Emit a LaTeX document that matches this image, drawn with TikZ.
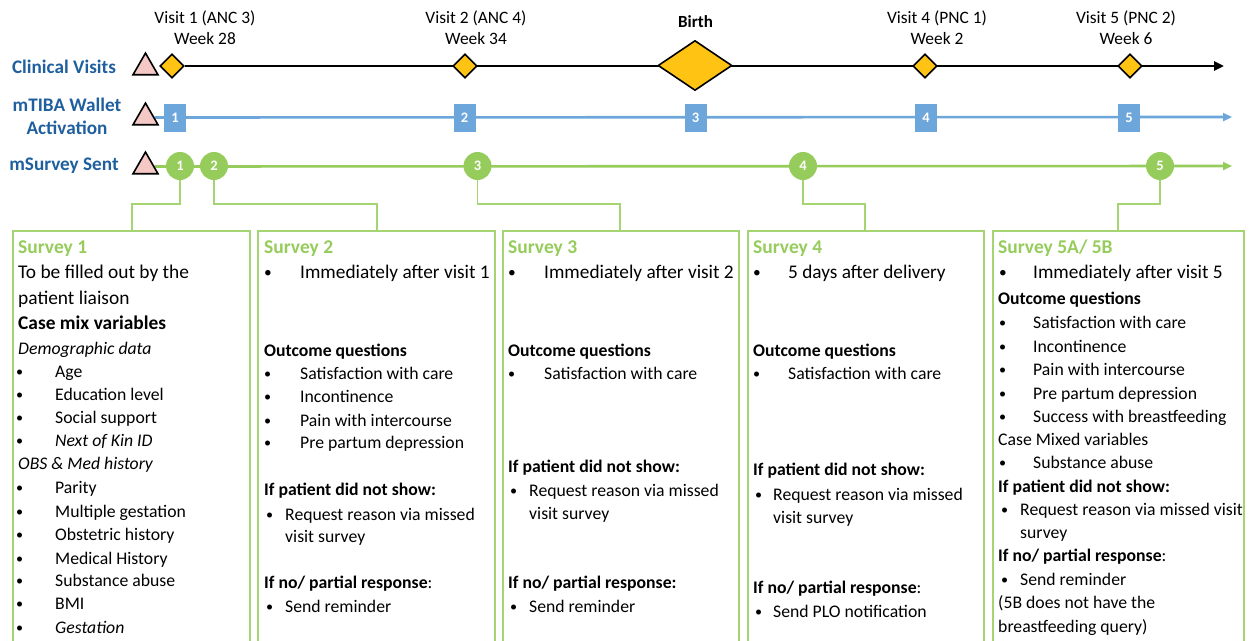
\documentclass[tikz,border=0pt]{standalone}
\usepackage{fontspec}
\setmainfont{Carlito}
\usetikzlibrary{shapes.geometric,arrows.meta,backgrounds}
\definecolor{lblue}{RGB}{31,95,158}
\definecolor{gold}{RGB}{255,195,20}
\definecolor{pinkf}{RGB}{244,200,196}
\definecolor{wblue}{RGB}{108,166,218}
\definecolor{sgreen}{RGB}{150,204,92}
\definecolor{bgreen}{RGB}{165,212,115}
\newcommand\mytx[4][]{\node[txt,#1] (#2) at #3 {#4};}
\newcommand\mybul[2]{\makebox[#1pt][l]{\raisebox{0.6pt}{\scalebox{0.8}{\textbullet}}}#2}
\begin{document}
\begin{tikzpicture}[x=1pt,y=-1pt,
  txt/.style={anchor=west, inner sep=0, font=\fontsize{17.7}{21}\selectfont, text height=14pt, text depth=2pt},
  big/.style={font=\fontsize{19.4}{22}\selectfont},
  imm/.style={font=\fontsize{19.3}{22}\selectfont},
  stitle/.style={text=sgreen, font=\fontsize{19.5}{22}\selectfont\bfseries},
  toplab/.style={align=center, inner sep=0, font=\fontsize{17.4}{21}\selectfont},
  sidelab/.style={align=center, inner sep=0, text=lblue, font=\fontsize{19.2}{23}\selectfont\bfseries},
  tri/.style={regular polygon, regular polygon sides=3, minimum size=28.8pt, inner sep=0, draw=black, line width=1.6pt, fill=pinkf},
  dia/.style={diamond, draw=black, line width=1.6pt, fill=gold, inner sep=0, minimum width=24pt, minimum height=24pt},
  bigdia/.style={dia, minimum width=74pt, minimum height=50pt},
  sq/.style={rectangle, fill=wblue, minimum width=22pt, minimum height=28pt, inner sep=0, text=white, font=\fontsize{14.5}{14}\selectfont\bfseries},
  circ/.style={circle, fill=sgreen, minimum size=28pt, inner sep=0, text=white, font=\fontsize{14.5}{14}\selectfont\bfseries},
  box/.style={draw=bgreen, line width=1.6pt, anchor=north west, inner sep=0},
  conn/.style={draw=bgreen, line width=1.6pt}
]
\useasboundingbox (0,0) rectangle (1253,640);

% side labels
\node[sidelab] (labcv) at (64,67) {Clinical Visits};
\node[sidelab] (labmt) at (67,116.5) {mTIBA Wallet\\Activation};
\node[sidelab] (labms) at (64,166) {mSurvey Sent};

% top labels
\node[toplab] (top1) at (205,27.5) {Visit 1 (ANC 3)\\Week 28};
\node[toplab] (top2) at (476,27.5) {Visit 2 (ANC 4)\\Week 34};
\node[toplab, font=\fontsize{17}{21}\selectfont\bfseries] (topb) at (695.5,22) {Birth};
\node[toplab] (top4) at (937,27.5) {Visit 4 (PNC 1)\\Week 2};
\node[toplab] (top5) at (1126,27.5) {Visit 5 (PNC 2)\\Week 6};

% triangles
\node[tri] (tri1) at (145.5,67.5) {};
\node[tri] (tri2) at (145.5,117.5) {};
\node[tri] (tri3) at (145.5,166.5) {};

% clinical visits
\node[dia] (v1) at (172,66) {};
\node[dia] (v2) at (465,66) {};
\node[bigdia] (vb) at (695,65.5) {};
\node[dia] (v4) at (925,66) {};
\node[dia] (v5) at (1130,66) {};
\coordinate (cvend) at (1224,66);

% wallet
\node[sq] (w1) at (175,117.5) {1};
\node[sq] (w2) at (464.5,117.5) {2};
\node[sq] (w3) at (695.5,117.5) {3};
\node[sq] (w4) at (926,117.5) {4};
\node[sq] (w5) at (1129,117.5) {5};
\coordinate (wend) at (1232,117);

% surveys
\node[circ] (s1) at (180,166) {1};
\node[circ] (s2) at (214,166) {2};
\node[circ] (s3) at (477.5,166) {3};
\node[circ] (s4) at (803,166) {4};
\node[circ] (s5) at (1160,166) {5};
\coordinate (send) at (1232,166);

% boxes
\node[box, minimum width=237pt, minimum height=430pt] (box1) at (12,230) {};
\node[box, minimum width=237pt, minimum height=430pt] (box2) at (257,230) {};
\node[box, minimum width=236pt, minimum height=430pt] (box3) at (502,230) {};
\node[box, minimum width=236pt, minimum height=430pt] (box4) at (747,230) {};
\node[box, minimum width=251pt, minimum height=430pt] (box5) at (992,230) {};
\coordinate (k1) at (132,230);
\coordinate (k2) at (377,230);
\coordinate (k3) at (620,230);
\coordinate (k4) at (865,230);
\coordinate (k5) at (1118,230);

\begin{pgfonlayer}{background}
\draw[line width=2.8pt, black, -{Triangle[length=10pt,width=9pt]}] (v1) -- (cvend);
\draw[line width=2.6pt, wblue, -{Triangle[length=9pt,width=8pt]}] (tri2) -- (wend);
\draw[line width=2.6pt, sgreen, -{Triangle[length=9pt,width=8pt]}] (tri3) -- (send);
\draw[conn] (s1.center) -- ++(0,38) -| (k1);
\draw[conn] (s2.center) -- ++(0,38) -| (k2);
\draw[conn] (s3.center) -- ++(0,38) -| (k3);
\draw[conn] (s4.center) -- ++(0,38) -| (k4);
\draw[conn] (s5.center) -- ++(0,38) -| (k5);
\end{pgfonlayer}

% box 1
\mytx[stitle]{a1}{(18,247)}{Survey 1}
\mytx[big]{a2}{(18,272)}{To be filled out by the}
\mytx[big]{a3}{(18,298)}{patient liaison}
\mytx[big]{a4}{(18,323)}{\textbf{Case mix variables}}
\mytx{a5}{(18,348)}{\textit{Demographic data}}
\mytx{a6}{(16,371)}{\mybul{39}{Age}}
\mytx{a7}{(16,394)}{\mybul{39}{Education level}}
\mytx{a8}{(16,417)}{\mybul{39}{Social support}}
\mytx{a9}{(16,440)}{\mybul{39}{\textit{Next of Kin ID}}}
\mytx{a10}{(18,463)}{\textit{OBS \& Med history}}
\mytx{a11}{(16,487)}{\mybul{39}{Parity}}
\mytx{a12}{(16,511)}{\mybul{39}{Multiple gestation}}
\mytx{a13}{(16,534)}{\mybul{39}{Obstetric history}}
\mytx{a14}{(16,558)}{\mybul{39}{Medical History}}
\mytx{a15}{(16,580)}{\mybul{39}{Substance abuse}}
\mytx{a16}{(16,603)}{\mybul{39}{BMI}}
\mytx{a17}{(16,627)}{\mybul{39}{\textit{Gestation}}}

% box 2
\mytx[stitle]{b1}{(264,247)}{Survey 2}
\mytx[imm]{b2}{(264,272)}{\mybul{36}{Immediately after visit 1}}
\mytx{b3}{(264,350)}{\textbf{Outcome questions}}
\mytx{b4}{(264,373)}{\mybul{36}{Satisfaction with care}}
\mytx{b5}{(264,396)}{\mybul{36}{Incontinence}}
\mytx{b6}{(264,420)}{\mybul{36}{Pain with intercourse}}
\mytx{b7}{(264,442)}{\mybul{36}{Pre partum depression}}
\mytx{b8}{(264,489)}{\textbf{If patient did not show:}}
\mytx{b9}{(266,514)}{\mybul{19}{Request reason via missed}}
\mytx{b10}{(285,536)}{visit survey}
\mytx{b11}{(264,582)}{\textbf{If no/ partial response}:}
\mytx{b12}{(266,606)}{\mybul{19}{Send reminder}}

% box 3
\mytx[stitle]{c1}{(508,247)}{Survey 3}
\mytx[imm]{c2}{(508,272)}{\mybul{36}{Immediately after visit 2}}
\mytx{c3}{(508,350)}{\textbf{Outcome questions}}
\mytx{c4}{(508,373)}{\mybul{36}{Satisfaction with care}}
\mytx{c5}{(508,466)}{\textbf{If patient did not show:}}
\mytx{c6}{(510,490)}{\mybul{19}{Request reason via missed}}
\mytx{c7}{(529,513)}{visit survey}
\mytx{c8}{(508,582)}{\textbf{If no/ partial response:}}
\mytx{c9}{(510,606)}{\mybul{19}{Send reminder}}

% box 4
\mytx[stitle]{d1}{(753,247)}{Survey 4}
\mytx[imm]{d2}{(753,272)}{\mybul{35}{5 days after delivery}}
\mytx{d3}{(753,350)}{\textbf{Outcome questions}}
\mytx{d4}{(753,373)}{\mybul{35}{Satisfaction with care}}
\mytx{d5}{(753,469)}{\textbf{If patient did not show:}}
\mytx{d6}{(755,494)}{\mybul{18}{Request reason via missed}}
\mytx{d7}{(773,517)}{visit survey}
\mytx{d8}{(753,587)}{\textbf{If no/ partial response}:}
\mytx{d9}{(755,611)}{\mybul{18}{Send PLO notification}}

% box 5
\mytx[stitle]{e1}{(998,247)}{Survey 5A/ 5B}
\mytx[imm]{e2}{(999,272)}{\mybul{34}{Immediately after visit 5}}
\mytx{e3}{(998,298)}{\textbf{Outcome questions}}
\mytx{e4}{(999,322)}{\mybul{34}{Satisfaction with care}}
\mytx{e5}{(999,346)}{\mybul{34}{Incontinence}}
\mytx{e6}{(999,369)}{\mybul{34}{Pain with intercourse}}
\mytx{e7}{(999,393)}{\mybul{34}{Pre partum depression}}
\mytx{e8}{(999,416)}{\mybul{34}{Success with breastfeeding}}
\mytx{e9}{(998,439)}{Case Mixed variables}
\mytx{e10}{(999,462)}{\mybul{34}{Substance abuse}}
\mytx{e11}{(998,486)}{\textbf{If patient did not show:}}
\mytx{e12}{(1001,509)}{\mybul{19}{Request reason via missed visit}}
\mytx{e13}{(1020,532)}{survey}
\mytx{e14}{(998,555)}{\textbf{If no/ partial response}:}
\mytx{e15}{(1001,579)}{\mybul{19}{Send reminder}}
\mytx{e16}{(998,602)}{(5B does not have the}
\mytx{e17}{(998,626)}{breastfeeding query)}
\end{tikzpicture}
\end{document}
